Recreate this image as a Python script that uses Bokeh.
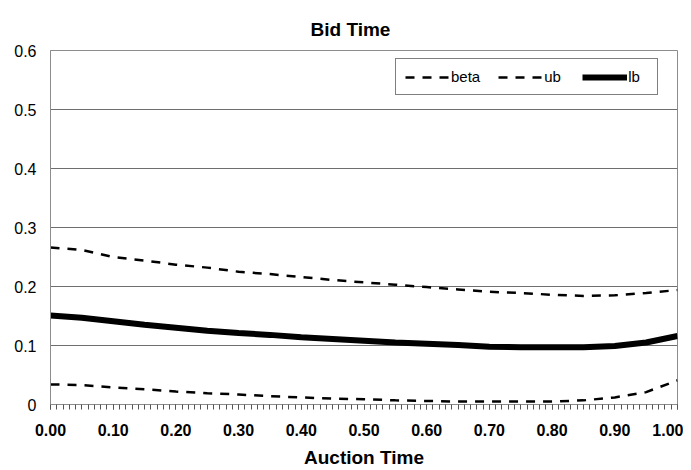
from bokeh.plotting import figure
from bokeh.models import FixedTicker, NumeralTickFormatter, Legend, LegendItem, Range1d
from bokeh.embed import file_html
from bokeh.resources import INLINE

t = [0.00, 0.05, 0.10, 0.15, 0.20, 0.25, 0.30, 0.35, 0.40, 0.45, 0.50,
     0.55, 0.60, 0.65, 0.70, 0.75, 0.80, 0.85, 0.90, 0.95, 1.00]
ub = [0.266, 0.262, 0.250, 0.244, 0.237, 0.232, 0.225, 0.221, 0.216, 0.211, 0.207,
      0.203, 0.199, 0.195, 0.191, 0.189, 0.186, 0.184, 0.185, 0.189, 0.194]
lb = [0.151, 0.147, 0.141, 0.135, 0.130, 0.125, 0.121, 0.118, 0.114, 0.111, 0.108,
      0.105, 0.103, 0.101, 0.098, 0.097, 0.097, 0.097, 0.099, 0.105, 0.116]
beta = [0.034, 0.033, 0.029, 0.026, 0.022, 0.019, 0.017, 0.014, 0.012, 0.010, 0.009,
        0.007, 0.006, 0.005, 0.005, 0.005, 0.005, 0.007, 0.012, 0.021, 0.041]
x_ticks = [0.0, 0.1, 0.2, 0.3, 0.4, 0.5, 0.6, 0.7, 0.8, 0.9, 1.0]
x_minor = [i / 100 for i in range(101)]
y_ticks = [0.0, 0.1, 0.2, 0.3, 0.4, 0.5, 0.6]
grid_ticks = [0.1, 0.2, 0.3, 0.4, 0.5]

FONT = "Liberation Sans"

p = figure(width=683, height=468, output_backend="svg", toolbar_location=None,
           x_range=Range1d(0, 1), y_range=Range1d(0, 0.6),
           min_border_left=50, min_border_right=6, min_border_top=50, min_border_bottom=60,
           title="Bid Time")
p.frame_width = 627
p.frame_height = 354

p.title.text_font = FONT
p.title.text_font_size = "19px"
p.title.text_font_style = "bold"
p.title.text_color = "black"
p.title.align = "left"
p.title.offset = 260
p.title.standoff = 21

p.outline_line_color = "#8c8c8c"
p.outline_line_width = 1
p.xgrid.visible = False
p.ygrid.ticker = FixedTicker(ticks=grid_ticks)
p.ygrid.grid_line_color = "#6e6e6e"
p.ygrid.grid_line_width = 1.2

xa = p.xaxis[0]
xa.ticker = FixedTicker(ticks=x_ticks, minor_ticks=x_minor)
xa.formatter = NumeralTickFormatter(format="0.00")
xa.axis_line_color = "#8c8c8c"
xa.major_tick_line_color = "#555555"
xa.minor_tick_line_color = "#555555"
xa.major_tick_in = 0
xa.major_tick_out = 5
xa.minor_tick_in = 0
xa.minor_tick_out = 5
xa.major_label_text_font = FONT
xa.major_label_text_font_size = "16px"
xa.major_label_text_font_style = "bold"
xa.major_label_text_color = "black"
xa.major_label_standoff = 14
xa.axis_label = "Auction Time"
xa.axis_label_text_font = FONT
xa.axis_label_text_font_size = "19px"
xa.axis_label_text_font_style = "bold"
xa.axis_label_text_color = "black"
xa.axis_label_standoff = 8

ya = p.yaxis[0]
ya.ticker = FixedTicker(ticks=y_ticks)
ya.formatter = NumeralTickFormatter(format="0.[0]")
ya.axis_line_color = "#8c8c8c"
ya.major_tick_in = 0
ya.major_tick_out = 0
ya.minor_tick_line_color = None
ya.major_label_text_font = FONT
ya.major_label_text_font_size = "16px"
ya.major_label_text_color = "black"
ya.major_label_standoff = 14

r_beta = p.line(t, beta, line_color="black", line_width=2.5, line_dash="9 8")
r_ub = p.line(t, ub, line_color="black", line_width=2.5, line_dash="9 8")
r_lb = p.line(t, lb, line_color="black", line_width=6)

legend = Legend(items=[LegendItem(label="beta", renderers=[r_beta]),
                       LegendItem(label="ub", renderers=[r_ub]),
                       LegendItem(label="lb", renderers=[r_lb])],
                orientation="horizontal", location=(345, 309))
legend.border_line_color = "black"
legend.border_line_width = 1
legend.background_fill_color = "white"
legend.background_fill_alpha = 1
legend.label_text_font = FONT
legend.label_text_font_size = "15px"
legend.label_text_color = "black"
legend.glyph_width = 45
legend.glyph_height = 12
legend.label_height = 12
legend.label_standoff = 1
legend.spacing = 18
legend.padding = 9
legend.margin = 0
p.add_layout(legend)

open("out.html", "w").write(file_html(p, INLINE))
